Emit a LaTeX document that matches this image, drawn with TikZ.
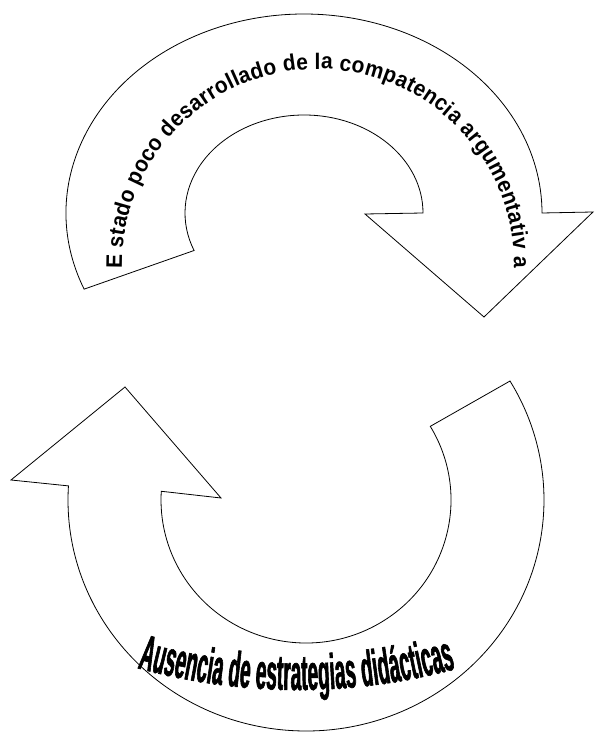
\documentclass[tikz,border=0pt]{standalone}
\usepackage{fontspec}
\setmainfont{Liberation Sans}
\newfontfamily\toptextfont[FakeStretch=0.93]{Liberation Sans}
\newfontfamily\bottextfont[FakeStretch=0.38,FakeBold=1.2]{Liberation Sans}
\usetikzlibrary{calc,decorations.text}

\begin{document}
\begin{tikzpicture}[x=1pt,y=1pt,
  cyclearrow/.style={draw=black, line width=0.8pt, fill=white, line join=miter}]

\useasboundingbox (0,0) rectangle (595,732);

% ================= TOP: CURVED ARROW =================
\coordinate (topc) at (304,519);
\coordinate (toptxt) at (318,467);

\draw[cyclearrow]
  ($(topc)+(202.5:238 and 199)$)
  arc[start angle=202.5, end angle=0, x radius=238pt, y radius=199pt]
  -- (593,520) -- (484,415) -- (365,518)
  -- ($(topc)+(119,0)$)
  arc[start angle=0, end angle=202.5, x radius=119pt, y radius=98pt]
  -- cycle;

% text along the top band
\path[decorate, decoration={text along path,
    text={|\toptextfont\bfseries\fontsize{22.5}{27}\selectfont|E stado poco desarrollado de la compatencia argumentativ a},
    text align={fit to path}}]
  ($(toptxt)+(181:196)$) arc[start angle=181, end angle=-1, radius=196pt];

% ================= BOTTOM: CURVED ARROW =================
\coordinate (botc) at (306,232);
\coordinate (bottxt) at (298,643);

\draw[cyclearrow]
  ($(botc)+(31:145 and 143)$)
  arc[start angle=31, end angle=-183.5, x radius=145pt, y radius=143pt]
  -- (221,234) -- (125,345) -- (11,252)
  -- ($(botc)+(176.5:238 and 231)$)
  arc[start angle=176.5, end angle=391, x radius=238pt, y radius=231pt]
  -- cycle;

% text along the bottom band
\path[decorate, decoration={text along path,
    text={|\bottextfont\bfseries\fontsize{50}{60}\selectfont|Ausencia de estrategias didácticas},
    text align={fit to path}}]
  ($(bottxt)+(254.5:601)$) arc[start angle=254.5, end angle=285.2, radius=601pt];

\end{tikzpicture}
\end{document}
